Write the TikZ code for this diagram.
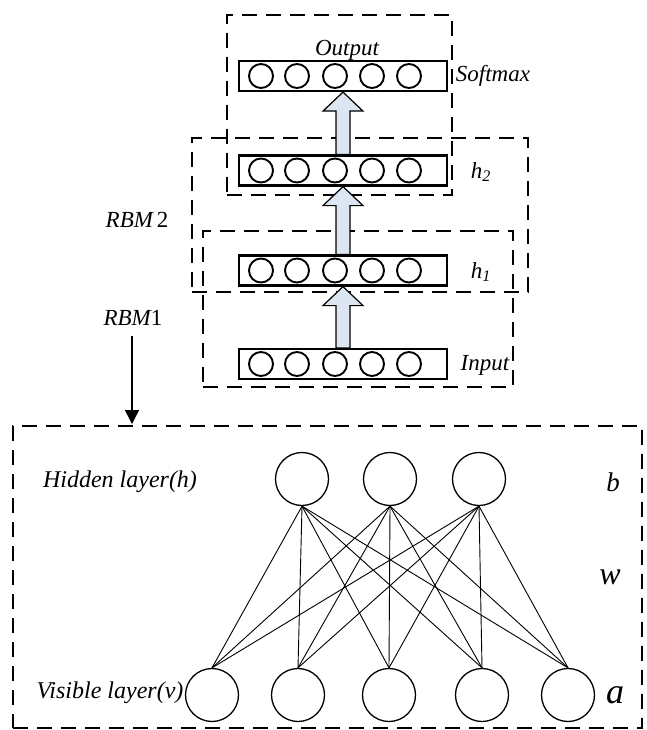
\documentclass[tikz,border=0pt]{standalone}
\usepackage{fontspec}
\setmainfont{Liberation Serif}
\usetikzlibrary{arrows.meta,calc}
\definecolor{arrowfill}{RGB}{220,230,242}
\newcommand{\rbmfat}[2]{%
  \draw[fat] ($(#1.north)+(-7,0)$) -- ($(#2.south)+(-7,19)$) -- ($(#2.south)+(-20,19)$)
    -- (#2.south) -- ($(#2.south)+(20,19)$) -- ($(#2.south)+(7,19)$) -- ($(#1.north)+(7,0)$) -- cycle;}
\begin{document}
\begin{tikzpicture}[x=1pt,y=-1pt,
  dbox/.style={draw, line width=2.6pt, dash pattern=on 15pt off 9pt, inner sep=0},
  layer/.style={draw, line width=2.2pt, minimum width=208pt, minimum height=30pt, inner sep=0},
  unit/.style={draw, circle, line width=1.9pt, minimum size=24pt, inner sep=0},
  neuron/.style={draw, circle, line width=1.3pt, minimum size=53pt, inner sep=0},
  lbl/.style={font=\fontsize{23}{27}\selectfont\itshape, inner sep=0},
  big/.style={font=\fontsize{24}{28}\selectfont\itshape, inner sep=0},
  fat/.style={draw, line width=1.2pt, fill=arrowfill},
  link/.style={draw, line width=0.9pt},
  ]
\useasboundingbox (0,0) rectangle (646,730);
% dashed group boxes
\node[dbox, minimum width=225pt, minimum height=180pt] (outbox) at (339.5,105) {};
\node[dbox, minimum width=336pt, minimum height=154pt] (rbmtwo) at (360,215) {};
\node[dbox, minimum width=310pt, minimum height=156pt] (rbmone) at (358,309) {};
\node[dbox, minimum width=629pt, minimum height=302pt] (bigbox) at (327.5,577) {};
% layers
\node[layer] (out) at (343,76) {};
\node[layer] (htwo) at (343,170.5) {};
\node[layer] (hone) at (343,270.5) {};
\node[layer] (inp) at (343,364) {};
\foreach \L/\y in {out/76, htwo/170.5, hone/270.5, inp/364}{
  \foreach \i/\x in {1/261, 2/297, 3/335, 4/372, 5/409}{
    \node[unit] (\L\i) at (\x,\y) {};
  }
}
% fat arrows
\rbmfat{inp}{hone}
\rbmfat{hone}{htwo}
\rbmfat{htwo}{out}
% labels top
\node[lbl] (loutput) at (347,50) {Output};
\node[lbl] (lsoftmax) at (493,76) {Softmax};
\node[lbl] (lhtwo) at (481,172) {h\textsubscript{2}};
\node[lbl] (lhone) at (481,272) {h\textsubscript{1}};
\node[lbl] (linput) at (485,365) {Input};
\node[lbl] (lrbmtwo) at (137,220) {RBM\,\upshape 2};
\node[lbl] (lrbmone) at (133,318) {RBM\upshape 1};
% RBM1 arrow
\coordinate (arrend) at (132,424);
\draw[line width=1.3pt, -{Triangle[width=14pt,length=14pt]}] (132,336) -- (arrend);
% bottom network
\foreach \i/\x in {1/302, 2/390, 3/479}{
  \node[neuron] (h\i) at (\x,479) {};
}
\foreach \i/\x in {1/212, 2/298, 3/389, 4/482, 5/568}{
  \node[neuron] (v\i) at (\x,695) {};
}
\foreach \h in {1,2,3}{
  \foreach \v in {1,...,5}{
    \draw[link] (h\h.south) -- (v\v.north);
  }
}
\node[big] (lhidden) at (120,482) {Hidden layer(h)};
\node[big] (lvisible) at (110,693) {Visible layer(v)};
\node[font=\fontsize{27}{30}\selectfont\itshape, inner sep=0] (lb) at (613,482) {b};
\node[font=\fontsize{32}{36}\selectfont\itshape, inner sep=0] (lw) at (610,577) {w};
\node[font=\fontsize{36}{40}\selectfont\itshape, inner sep=0] (la) at (615,695) {a};
\end{tikzpicture}
\end{document}
